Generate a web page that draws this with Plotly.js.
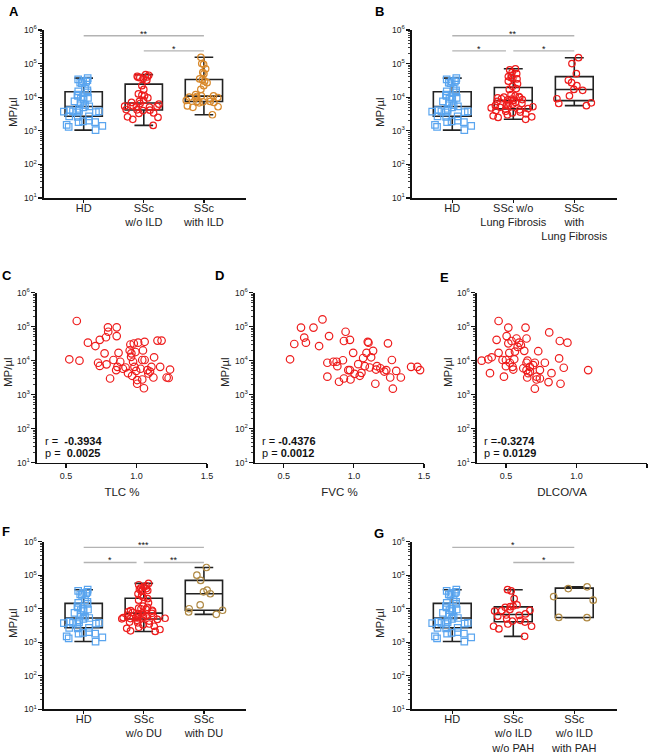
<!DOCTYPE html>
<html><head><meta charset="utf-8">
<script src="https://cdn.plot.ly/plotly-3.0.1.min.js"></script>
<style>html,body{margin:0;padding:0;background:#fff}</style>
</head><body><div id="chart" style="width:653px;height:752px"></div>
<script>
// ---------- DATA ----------
const yTickVals = [1e1, 1e2, 1e3, 1e4, 1e5, 1e6];
const yTickText = ['10<sup>1</sup>', '10<sup>2</sup>', '10<sup>3</sup>', '10<sup>4</sup>', '10<sup>5</sup>', '10<sup>6</sup>'];
const xTickVals = [0.5, 1.0, 1.5];
const xTickText = ['0.5', '1.0', '1.5'];
const yTitle = 'MP/µl';

const catsA = ['HD', 'SSc<br>w/o ILD', 'SSc<br>with ILD'];
const catsB = ['HD', 'SSc w/o<br>Lung Fibrosis', 'SSc<br>with<br>Lung Fibrosis'];
const catsF = ['HD', 'SSc<br>w/o DU', 'SSc<br>with DU'];
const catsG = ['HD', 'SSc<br>w/o ILD<br>w/o PAH', 'SSc<br>w/o ILD<br>with PAH'];

const HD = [37000, 34000, 32000, 30000, 29000, 27000, 26000, 18000, 16000, 15000, 14000, 12000, 11000, 10000, 9500, 9000, 8500, 7500, 6500, 5800, 5300, 5000, 4500, 4100, 3900, 3800, 3800, 3700, 3600, 3500, 2700, 2700, 2600, 2000, 1900, 1800, 1800, 1500, 1400, 1300, 1050];
const sscNoILD = [47000, 45000, 42000, 40000, 39000, 38000, 36000, 32000, 22000, 17000, 12500, 11500, 11000, 9500, 8000, 7500, 7000, 6500, 6200, 5500, 5400, 5300, 5200, 5100, 4300, 4200, 4100, 4000, 3400, 3300, 2600, 2500, 2200, 1450];
const sscILD = [154000, 100000, 95000, 70000, 55000, 50000, 35000, 33000, 30000, 27000, 22000, 17000, 12000, 11000, 11000, 10500, 10000, 9800, 9500, 9000, 8000, 7500, 7500, 7300, 7000, 6800, 5500, 5200, 5000, 3000];
const sscNoLF = [70000, 65000, 55000, 50000, 45000, 41000, 38000, 36000, 35000, 30000, 25000, 21000, 18000, 17000, 12000, 11000, 10500, 10000, 9800, 9500, 9000, 8800, 8500, 8300, 8000, 7500, 7200, 7000, 6500, 6200, 6000, 5700, 5500, 5200, 5000, 4800, 4600, 4400, 4200, 4000, 3800, 3600, 3400, 3200, 3000, 2800, 2600, 2500, 2200];
const sscLF = [150000, 100000, 50000, 32000, 27000, 22000, 17000, 16000, 11000, 9000, 6800, 6500, 5600];
const sscNoDU = [57000, 52000, 48000, 45000, 42000, 40000, 38000, 36000, 35000, 33000, 28000, 24000, 22000, 20000, 18000, 15000, 12000, 11000, 10500, 10000, 9500, 9000, 8800, 8500, 8200, 7800, 7500, 7300, 7000, 6800, 6500, 6200, 6000, 5800, 5600, 5500, 5400, 5300, 5200, 5100, 5000, 4800, 4500, 4300, 4000, 3800, 3500, 3300, 3000, 2800, 2600, 2400, 2200, 2100];
const sscDU = [170000, 100000, 70000, 36000, 32000, 28000, 13000, 10000, 9000, 8000, 6800];
const sscNoPAH = [37000, 34000, 20000, 13000, 12000, 11500, 11000, 9500, 9000, 8800, 8500, 7000, 6500, 6300, 6000, 5000, 4500, 4300, 4000, 3500, 3000, 3000, 2500, 1500];
const sscPAH = [45000, 40000, 23000, 18000, 5500, 5400];

const sigA = [[0, 2, '**'], [1, 2, '*']];
const sigB = [[0, 2, '**'], [0, 1, '*'], [1, 2, '*']];
const sigF = [[0, 2, '***'], [0, 1, '*'], [1, 2, '**']];
const sigG = [[0, 2, '*'], [1, 2, '*']];

const tlcX = [0.577,0.524,0.596,0.656,0.709,0.740,0.728,0.740,0.784,0.774,0.788,0.798,0.800,0.813,0.837,0.860,0.860,0.856,0.865,0.873,0.885,0.904,0.923,0.940,0.952,0.957,0.962,0.964,0.969,0.976,0.981,0.986,0.993,0.998,1.005,1.005,1.012,1.029,1.041,1.046,1.041,1.058,1.058,1.053,1.077,1.084,1.096,1.106,1.120,1.125,1.149,1.178,1.168,1.214,1.228,1.238];
const tlcY = [147000,11000,10000,34000,27000,41000,8700,7000,49000,16500,7800,96000,71000,3000,10500,96000,53000,5300,6600,17000,9300,5800,6300,4300,20000,30000,13000,16500,3600,9300,32000,6600,18000,5000,2700,2100,34000,5800,10500,20000,2800,36000,10500,1550,5300,4200,4800,6600,3200,12600,39000,39000,6600,3200,3100,5500];
const fvcX = [0.545,0.575,0.623,0.646,0.658,0.712,0.752,0.776,0.823,0.811,0.811,0.854,0.877,0.882,0.894,0.922,0.929,0.941,0.929,0.972,0.960,0.972,0.976,0.995,1.005,1.031,1.042,1.054,1.066,1.078,1.090,1.099,1.104,1.113,1.123,1.137,1.153,1.158,1.165,1.189,1.217,1.231,1.243,1.259,1.271,1.278,1.302,1.335,1.408,1.453,1.472];
const fvcY = [11000,31000,94000,48000,34000,94000,27000,164000,53000,8700,3400,9300,9300,6900,2400,10300,3000,71000,38000,41000,5300,5300,2800,17000,4100,7900,3600,4400,12000,6900,17000,36000,34000,6300,12600,19500,2100,5500,6900,6000,4800,5300,32500,3200,10500,1500,5000,3200,6600,6600,5300];
const dlcoX = [0.328,0.375,0.399,0.387,0.434,0.448,0.448,0.476,0.486,0.500,0.500,0.505,0.517,0.517,0.524,0.528,0.540,0.547,0.552,0.559,0.564,0.575,0.583,0.594,0.606,0.623,0.630,0.639,0.646,0.646,0.653,0.646,0.651,0.658,0.670,0.670,0.693,0.705,0.705,0.717,0.717,0.729,0.741,0.741,0.776,0.802,0.807,0.823,0.877,0.882,0.887,0.910,0.936,1.083];
const dlcoY = [10000,11000,12600,4300,41000,17000,147000,10500,3400,10500,6900,53000,94000,32500,17000,8700,38000,6600,5500,11000,18500,45000,25500,34000,29000,6000,19500,94000,45000,8700,10000,5300,3200,4300,4800,6600,7400,8700,1500,3400,2800,19000,5300,3000,8700,2350,68000,4300,11700,38000,2100,6200,34000,5300];

const rVals = ['-0.3934', '-0.4376', '-0.3274'];
const pVals = ['0.0025', '0.0012', '0.0129'];
const rPrefix = ['r =  ', 'r = ', 'r ='];
const pPrefix = ['p =  ', 'p = ', 'p = '];

// ---------- STYLE ----------
const W = 653, H = 752;
const FONT = 'Arial, "Liberation Sans", sans-serif';
const BLUE = '#5aa5ef', RED = '#ee1c1c', ORANGE = '#d8892c', TAN = '#b08a45';
const fx = v => v / W, fy = v => 1 - v / H;

const layout = {
  width: W, height: H, margin: {l: 0, r: 0, t: 0, b: 0},
  paper_bgcolor: '#fff', plot_bgcolor: 'rgba(0,0,0,0)',
  showlegend: false, boxmode: 'overlay',
  font: {family: FONT, color: '#222'},
  annotations: []
};
const traces = [];

function yAxis(top, bottom, anchor) {
  return {
    domain: [fy(bottom), fy(top)], anchor: anchor, type: 'log', range: [1, 6],
    tickmode: 'array', tickvals: yTickVals, ticktext: yTickText,
    ticks: 'outside', ticklen: 4, tickwidth: 1.2, tickcolor: '#111',
    minor: {ticks: 'outside', ticklen: 2, tickwidth: 0.8, tickcolor: '#111', dtick: 'D1', showgrid: false},
    showline: true, linecolor: '#111', linewidth: 1.6, showgrid: false, zeroline: false,
    tickfont: {family: FONT, size: 8.5, color: '#222'}, fixedrange: true
  };
}
function yTitleAnn(xc, yc) {
  layout.annotations.push({xref: 'paper', yref: 'paper', x: fx(xc), y: fy(yc), text: yTitle, textangle: -90,
    showarrow: false, xanchor: 'center', yanchor: 'middle', font: {family: FONT, size: 11.5, color: '#222'}});
}
function letterAnn(L, p) {
  layout.annotations.push({xref: 'paper', yref: 'paper', x: fx(p[0]), y: fy(p[1]), text: '<b>' + L + '</b>',
    showarrow: false, xanchor: 'left', yanchor: 'top', font: {family: FONT, size: 13, color: '#000'}});
}

function quant(s, p) {
  const n = s.length, r = p * (n + 1);
  if (r <= 1) return s[0];
  if (r >= n) return s[n - 1];
  const lo = Math.floor(r), f = r - lo;
  return s[lo - 1] + f * (s[lo] - s[lo - 1]);
}

// ---------- BOX PANELS ----------
const boxPanels = [
  {id: '', xd: [44, 246], yd: [30, 198], cats: catsA, groups: [HD, sscNoILD, sscILD], colors: [BLUE, RED, ORANGE], sig: sigA, letter: 'A', lp: [7, 2], tt: [13, 112]},
  {id: '2', xd: [412, 617], yd: [30, 198], cats: catsB, groups: [HD, sscNoLF, sscLF], colors: [BLUE, RED, RED], sig: sigB, letter: 'B', lp: [373, 2], tt: [380, 112]},
  {id: '6', xd: [44, 246], yd: [541.7, 709.3], cats: catsF, groups: [HD, sscNoDU, sscDU], colors: [BLUE, RED, TAN], sig: sigF, letter: 'F', lp: [0, 522], tt: [13, 623]},
  {id: '7', xd: [412, 617], yd: [541.7, 709.3], cats: catsG, groups: [HD, sscNoPAH, sscPAH], colors: [BLUE, RED, TAN], sig: sigG, letter: 'G', lp: [372, 524], tt: [380, 623]}
];

boxPanels.forEach(P => {
  const xa = 'x' + P.id, ya = 'y' + P.id;
  layout['xaxis' + P.id] = {
    domain: [fx(P.xd[0]), fx(P.xd[1])], anchor: ya, range: [-0.66, 2.7],
    tickmode: 'array', tickvals: [0, 1, 2], ticktext: P.cats, tickangle: 0, ticklabelstandoff: -4,
    ticks: 'outside', ticklen: 3, tickwidth: 1.2, tickcolor: '#111',
    showline: true, linecolor: '#111', linewidth: 1.6, showgrid: false, zeroline: false,
    tickfont: {family: FONT, size: 11, color: '#222'}, fixedrange: true
  };
  layout['yaxis' + P.id] = yAxis(P.yd[0], P.yd[1], xa);

  P.groups.forEach((g, i) => {
    const s = g.slice().sort((a, b) => a - b);
    traces.push({
      type: 'box', x: [i], q1: [quant(s, 0.25)], median: [quant(s, 0.5)], q3: [quant(s, 0.75)],
      lowerfence: [s[0]], upperfence: [s[s.length - 1]],
      boxpoints: false, width: 0.62, whiskerwidth: 0.5,
      fillcolor: 'rgba(0,0,0,0)', line: {color: '#222', width: 1.6},
      xaxis: xa, yaxis: ya, hoverinfo: 'skip', showlegend: false
    });
    traces.push({
      type: 'box', x: g.map(() => i), y: g, boxpoints: 'all', jitter: 1, pointpos: 0, width: 0.8,
      fillcolor: 'rgba(0,0,0,0)', line: {color: 'rgba(0,0,0,0)', width: 0},
      marker: {symbol: i === 0 ? 'square-open' : 'circle-open', size: 6.5, color: P.colors[i],
               line: {color: P.colors[i], width: 1.2}},
      xaxis: xa, yaxis: ya, hoverinfo: 'skip', showlegend: false
    });
  });

  const levels = [5.83, 5.38];
  const lvlOf = c => (c[0] === 0 && c[1] === 2) ? levels[0] : levels[1];
  P.sig.forEach(c => {
    const lvl = lvlOf(c);
    const sharesEnd = P.sig.some(o => o !== c && o[0] === c[1] && lvlOf(o) === lvl);
    const x0 = c[0], x1 = c[1] - (sharesEnd ? 0.12 : 0);
    const yv = Math.pow(10, lvl);
    traces.push({type: 'scatter', mode: 'lines', x: [x0, x1], y: [yv, yv], xaxis: xa, yaxis: ya,
      line: {color: '#b3b3b3', width: 1.4}, hoverinfo: 'skip', showlegend: false, cliponaxis: false});
    layout.annotations.push({xref: xa, yref: ya, x: (x0 + x1) / 2, y: lvl, text: c[2], showarrow: false,
      xanchor: 'center', yanchor: 'bottom', yshift: -5, font: {family: FONT, size: 9, color: '#111'}});
  });
  letterAnn(P.letter, P.lp);
  yTitleAnn(P.tt[0], P.tt[1]);
});

// ---------- SCATTER PANELS ----------
const scPanels = [
  {id: '3', xd: [37, 207], x: tlcX, y: tlcY, title: 'TLC %', letter: 'C', lp: [0, 266], tp: 43, tt: [8, 372]},
  {id: '4', xd: [255, 424], x: fvcX, y: fvcY, title: 'FVC %', letter: 'D', lp: [213, 266], tp: 260, tt: [225, 372]},
  {id: '5', xd: [477, 647], x: dlcoX, y: dlcoY, title: 'DLCO/VA', letter: 'E', lp: [438, 268], tp: 482, tt: [448, 372]}
];
scPanels.forEach((P, k) => {
  const xa = 'x' + P.id, ya = 'y' + P.id;
  layout['xaxis' + P.id] = {
    domain: [fx(P.xd[0]), fx(P.xd[1])], anchor: ya, range: [0.295, 1.5],
    tickmode: 'array', tickvals: xTickVals, ticktext: xTickText,
    ticks: 'outside', ticklen: 4, tickwidth: 1.2, tickcolor: '#111',
    showline: true, linecolor: '#111', linewidth: 1.6, showgrid: false, zeroline: false,
    tickfont: {family: FONT, size: 9, color: '#222'},
    title: {text: P.title, font: {family: FONT, size: 11.5, color: '#222'}, standoff: 8}, fixedrange: true
  };
  layout['yaxis' + P.id] = yAxis(292.7, 462.7, xa);
  traces.push({
    type: 'scatter', mode: 'markers', x: P.x, y: P.y, xaxis: xa, yaxis: ya,
    marker: {symbol: 'circle-open', size: 7.5, color: RED, line: {color: RED, width: 1.2}},
    hoverinfo: 'skip', showlegend: false, cliponaxis: false
  });
  layout.annotations.push({xref: 'paper', yref: 'paper', x: fx(P.tp), y: fy(440.7), xanchor: 'left', yanchor: 'middle',
    text: rPrefix[k] + '<b>' + rVals[k] + '</b>', showarrow: false, font: {family: FONT, size: 11, color: '#111'}});
  layout.annotations.push({xref: 'paper', yref: 'paper', x: fx(P.tp), y: fy(452.7), xanchor: 'left', yanchor: 'middle',
    text: pPrefix[k] + '<b>' + pVals[k] + '</b>', showarrow: false, font: {family: FONT, size: 11, color: '#111'}});
  letterAnn(P.letter, P.lp);
  yTitleAnn(P.tt[0], P.tt[1]);
});

Plotly.newPlot('chart', traces, layout, {staticPlot: true, displayModeBar: false});
</script>
</body></html>
